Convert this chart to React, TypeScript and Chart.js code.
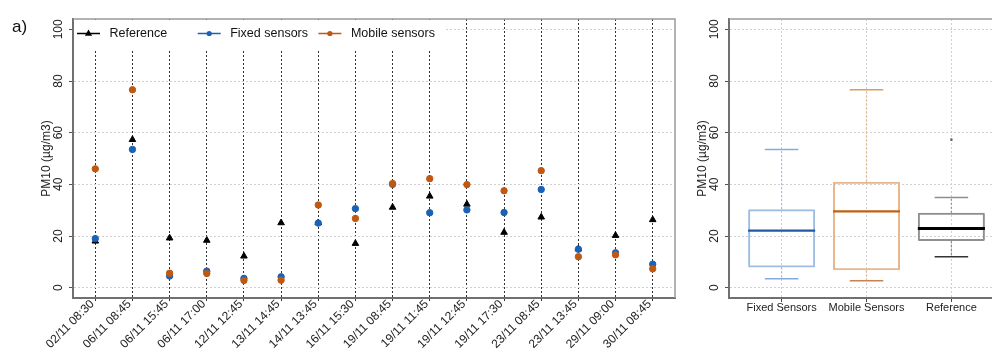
import { useEffect, useRef } from 'react';
import { Chart, registerables } from 'chart.js';

Chart.register(...registerables);

const FONT = "'Liberation Sans', Arial, sans-serif";

// ---------- Data: time series (left panel) ----------
const categories = [
  '02/11 08:30', '06/11 08:45', '06/11 15:45', '06/11 17:00',
  '12/11 12:45', '13/11 14:45', '14/11 13:45', '16/11 15:30',
  '19/11 08:45', '19/11 11:45', '19/11 12:45', '19/11 17:30',
  '23/11 08:45', '23/11 13:45', '29/11 09:00', '30/11 08:45',
];
const referenceValues = [18.0, 57.3, 19.2, 18.3, 12.2, 25.1, 25.1, 17.1, 31.1, 35.4, 32.3, 21.4, 27.3, 15.0, 20.2, 26.3];
const fixedValues = [19.0, 53.5, 4.5, 6.4, 3.6, 4.2, 25.0, 30.6, 40.0, 29.0, 30.1, 29.1, 38.0, 14.9, 13.5, 9.1];
const mobileValues = [46.0, 76.6, 5.6, 5.5, 2.8, 2.9, 32.0, 26.8, 40.3, 42.2, 39.9, 37.5, 45.3, 12.0, 12.7, 7.3];
const yTicks = [0, 20, 40, 60, 80, 100];

// ---------- Data: box plots (right panel) ----------
const boxLabels = ['Fixed Sensors', 'Mobile Sensors', 'Reference'];
const boxLow = [3.5, 2.7, 12.0];
const boxQ1 = [7.8, 6.7, 18.1];
const boxMedian = [22.1, 29.5, 22.9];
const boxQ3 = [30.4, 41.0, 29.0];
const boxHigh = [53.5, 76.6, 34.9];
const outlierIndex = [2];
const outlierValues = [57.3];

const yTitle = 'PM10 (µg/m3)';

const BLUE = '#1a62b6';
const ORANGE = '#c2570f';

function drawAxisDecor(chart: any, title: string) {
  const { ctx, chartArea, scales } = chart;
  const y = scales.y;
  ctx.save();
  // top & right frame
  ctx.strokeStyle = '#9a9a9a';
  ctx.lineWidth = 1.5;
  ctx.setLineDash([]);
  ctx.beginPath();
  ctx.moveTo(chartArea.left, chartArea.top);
  ctx.lineTo(chartArea.right, chartArea.top);
  ctx.lineTo(chartArea.right, chartArea.bottom);
  ctx.stroke();
  // rotated tick labels
  ctx.fillStyle = '#222';
  ctx.font = `12px ${FONT}`;
  ctx.textAlign = 'center';
  ctx.textBaseline = 'middle';
  y.ticks.forEach((t: any) => {
    const py = y.getPixelForValue(t.value);
    ctx.save();
    ctx.translate(chartArea.left - 14, py);
    ctx.rotate(-Math.PI / 2);
    ctx.fillText(String(t.value), 0, 0);
    ctx.restore();
  });
  ctx.save();
  ctx.translate(chartArea.left - 26, (chartArea.top + chartArea.bottom) / 2);
  ctx.rotate(-Math.PI / 2);
  ctx.fillText(title, 0, 0);
  ctx.restore();
  ctx.restore();
}

const leftPlugin = {
  id: 'leftDecor',
  beforeDatasetsDraw(chart: any) {
    const { ctx, chartArea } = chart;
    ctx.save();
    ctx.fillStyle = '#fff';
    ctx.fillRect(chartArea.left + 1, chartArea.top + 1, 372, 29);
    chart.data.datasets.forEach((ds: any, i: number) => {
      const x0 = chartArea.left + 4 + i * 120.7;
      const y0 = chartArea.top + 14.5;
      ctx.strokeStyle = ds.borderColor;
      ctx.fillStyle = ds.backgroundColor;
      ctx.lineWidth = 1.5;
      ctx.setLineDash([]);
      ctx.beginPath();
      ctx.moveTo(x0, y0);
      ctx.lineTo(x0 + 23, y0);
      ctx.stroke();
      const cx = x0 + 11.5;
      ctx.beginPath();
      if (ds.pointStyle === 'triangle') {
        ctx.moveTo(cx, y0 - 4);
        ctx.lineTo(cx + 3.6, y0 + 2.2);
        ctx.lineTo(cx - 3.6, y0 + 2.2);
        ctx.closePath();
      } else {
        ctx.arc(cx, y0, 2.6, 0, Math.PI * 2);
      }
      ctx.fill();
      ctx.fillStyle = '#111';
      ctx.font = `12.5px ${FONT}`;
      ctx.textAlign = 'left';
      ctx.textBaseline = 'middle';
      ctx.fillText(ds.label, x0 + 32.5, y0 + 0.5);
    });
    ctx.restore();
  },
  afterDraw(chart: any) {
    drawAxisDecor(chart, yTitle);
    const { ctx } = chart;
    ctx.save();
    ctx.fillStyle = '#111';
    ctx.font = `17px ${FONT}`;
    ctx.textAlign = 'left';
    ctx.textBaseline = 'middle';
    ctx.fillText('a)', 12, 27);
    ctx.restore();
  },
};

const boxColors = ['#9dbde3', '#e8b78c', '#8f8f8f'];
const capColors = ['#86aadb', '#dd9a62', '#8f8f8f'];
const lowCapColors = ['#86aadb', '#c98250', '#333333'];
const medianColors = ['#1f5aa6', '#c4600f', '#000000'];

const rightPlugin = {
  id: 'boxDecor',
  afterDatasetsDraw(chart: any) {
    const { ctx, scales } = chart;
    const x = scales.x;
    const y = scales.y;
    const bars = chart.getDatasetMeta(0).data;
    ctx.save();
    boxLabels.forEach((_, i) => {
      const cx = x.getPixelForValue(i);
      const w = bars[i].width;
      const pLow = y.getPixelForValue(boxLow[i]);
      const pQ1 = y.getPixelForValue(boxQ1[i]);
      const pQ3 = y.getPixelForValue(boxQ3[i]);
      const pHigh = y.getPixelForValue(boxHigh[i]);
      const pMed = y.getPixelForValue(boxMedian[i]);
      // whiskers (dotted)
      ctx.strokeStyle = boxColors[i];
      ctx.lineWidth = 1.2;
      ctx.setLineDash([2, 2]);
      ctx.beginPath();
      ctx.moveTo(cx, pQ3);
      ctx.lineTo(cx, pHigh);
      ctx.moveTo(cx, pQ1);
      ctx.lineTo(cx, pLow);
      ctx.stroke();
      ctx.setLineDash([]);
      // caps
      ctx.lineWidth = 1.5;
      ctx.strokeStyle = capColors[i];
      ctx.beginPath();
      ctx.moveTo(cx - w / 4, pHigh);
      ctx.lineTo(cx + w / 4, pHigh);
      ctx.stroke();
      ctx.strokeStyle = lowCapColors[i];
      ctx.beginPath();
      ctx.moveTo(cx - w / 4, pLow);
      ctx.lineTo(cx + w / 4, pLow);
      ctx.stroke();
      // median
      ctx.strokeStyle = medianColors[i];
      ctx.lineWidth = i === 2 ? 3 : 2.2;
      ctx.beginPath();
      ctx.moveTo(cx - w / 2, pMed);
      ctx.lineTo(cx + w / 2, pMed);
      ctx.stroke();
    });
    ctx.restore();
  },
  afterDraw(chart: any) {
    drawAxisDecor(chart, yTitle);
  },
};

function yScale(width: number) {
  return {
    type: 'linear',
    min: -4,
    max: 104,
    afterBuildTicks: (s: any) => {
      s.ticks = yTicks.map((v) => ({ value: v }));
    },
    afterFit: (s: any) => {
      s.width = width;
    },
    ticks: { display: false },
    grid: {
      color: '#d0d0d0',
      lineWidth: 1,
      drawTicks: true,
      tickLength: 4,
      tickColor: '#555',
      tickBorderDash: [],
      tickWidth: 1,
    },
    border: { display: true, color: '#707070', width: 2, dash: [2, 2] },
  };
}

function LeftChart() {
  const ref = useRef<HTMLCanvasElement>(null);
  useEffect(() => {
    const mk = (vals: number[]) => vals.map((v, i) => ({ x: i, y: v }));
    const chart = new Chart(ref.current as HTMLCanvasElement, {
      type: 'scatter',
      data: {
        datasets: [
          {
            label: 'Reference',
            data: mk(referenceValues),
            pointStyle: 'triangle',
            pointRadius: 3.8,
            backgroundColor: '#000',
            borderColor: '#000',
            borderWidth: 1,
            order: 2,
          },
          {
            label: 'Fixed sensors',
            data: mk(fixedValues),
            pointStyle: 'circle',
            pointRadius: 3.2,
            backgroundColor: BLUE,
            borderColor: BLUE,
            borderWidth: 1,
            order: 1,
          },
          {
            label: 'Mobile sensors',
            data: mk(mobileValues),
            pointStyle: 'circle',
            pointRadius: 3.2,
            backgroundColor: ORANGE,
            borderColor: ORANGE,
            borderWidth: 1,
            order: 0,
          },
        ],
      } as any,
      options: {
        responsive: false,
        animation: false,
        layout: { padding: { left: 0, right: 5, top: 19, bottom: 0 } },
        plugins: { legend: { display: false }, tooltip: { enabled: false } },
        scales: {
          x: {
            type: 'linear',
            min: -0.6,
            max: 15.6,
            afterBuildTicks: (s: any) => {
              s.ticks = categories.map((_, i) => ({ value: i }));
            },
            afterFit: (s: any) => {
              s.paddingLeft = 0;
              s.paddingRight = 0;
              s.height = 54;
            },
            ticks: {
              autoSkip: false,
              maxRotation: 45,
              minRotation: 45,
              padding: -5,
              labelOffset: -3,
              color: '#222',
              font: { family: FONT, size: 12 },
              callback: (v: any) => categories[v as number],
            },
            grid: {
              color: '#333',
              lineWidth: 1,
              drawTicks: true,
              tickLength: 4,
              tickColor: '#333',
              tickBorderDash: [2, 2],
            },
            border: { display: true, color: '#707070', width: 2, dash: [2, 2] },
          },
          y: yScale(73),
        } as any,
      },
      plugins: [leftPlugin],
    });
    return () => chart.destroy();
  }, []);
  return <canvas ref={ref} width={680} height={352} style={{ display: 'block' }} />;
}

function RightChart() {
  const ref = useRef<HTMLCanvasElement>(null);
  useEffect(() => {
    const chart = new Chart(ref.current as HTMLCanvasElement, {
      type: 'bar',
      data: {
        datasets: [
          {
            type: 'bar',
            label: 'Box',
            data: boxLabels.map((_, i) => ({ x: i, y: [boxQ1[i], boxQ3[i]] })),
            backgroundColor: 'rgba(0,0,0,0)',
            borderColor: boxColors,
            borderWidth: 2,
            borderSkipped: false,
            borderRadius: 1,
            barPercentage: 0.79,
            categoryPercentage: 1,
          },
          {
            type: 'scatter',
            label: 'Outliers',
            data: outlierIndex.map((k, j) => ({ x: k, y: outlierValues[j] })),
            pointRadius: 1.3,
            backgroundColor: '#666',
            borderColor: '#666',
            borderWidth: 0,
          },
        ],
      } as any,
      options: {
        responsive: false,
        animation: false,
        layout: { padding: { left: 0, right: 12, top: 19, bottom: 0 } },
        plugins: { legend: { display: false }, tooltip: { enabled: false } },
        scales: {
          x: {
            type: 'linear',
            min: -0.62,
            max: 2.62,
            offset: false,
            afterBuildTicks: (s: any) => {
              s.ticks = boxLabels.map((_, i) => ({ value: i }));
            },
            afterFit: (s: any) => {
              s.paddingLeft = 0;
              s.paddingRight = 0;
              s.height = 54;
            },
            ticks: {
              autoSkip: false,
              maxRotation: 0,
              minRotation: 0,
              padding: -1,
              color: '#222',
              font: { family: FONT, size: 11 },
              callback: (v: any) => boxLabels[v as number],
            },
            grid: {
              color: '#cfcfcf',
              lineWidth: 1,
              drawTicks: true,
              tickLength: 4,
              tickColor: '#444',
              tickBorderDash: [],
              offset: false,
            },
            border: { display: true, color: '#707070', width: 2, dash: [2, 2] },
          },
          y: yScale(49),
        } as any,
      },
      plugins: [rightPlugin],
    });
    return () => chart.destroy();
  }, []);
  return <canvas ref={ref} width={336} height={352} style={{ display: 'block' }} />;
}

export default function App() {
  return (
    <div style={{ position: 'fixed', left: 0, top: 0, width: 992, height: 352, background: '#fff', overflow: 'hidden' }}>
      <div style={{ position: 'absolute', left: 0, top: 0, width: 680, height: 352 }}>
        <LeftChart />
      </div>
      <div style={{ position: 'absolute', left: 680, top: 0, width: 312, height: 352, overflow: 'hidden' }}>
        <RightChart />
      </div>
    </div>
  );
}
